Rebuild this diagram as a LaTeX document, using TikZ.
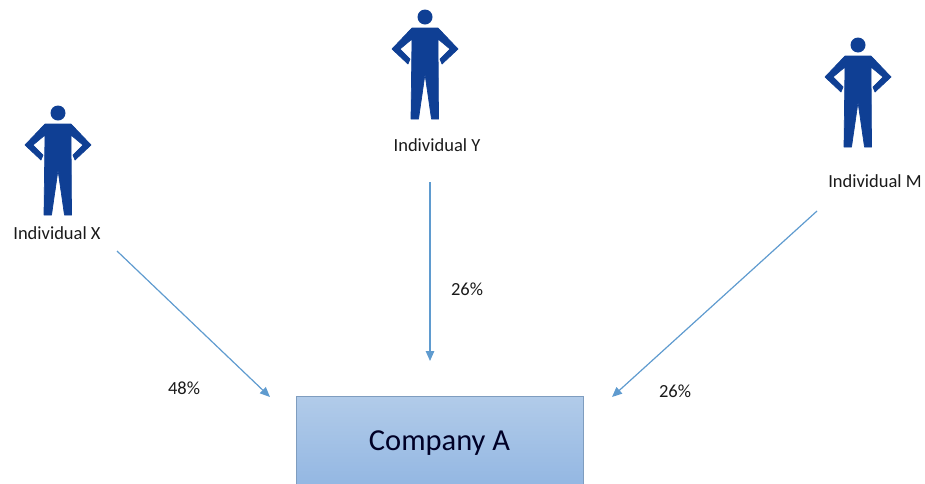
\documentclass[tikz,border=0pt]{standalone}
\usepackage{fontspec}
\setmainfont{Carlito}
\usetikzlibrary{arrows.meta,shadings}
\definecolor{fig}{HTML}{0F3F94}
\definecolor{arrowc}{HTML}{5F9BCF}
\definecolor{boxtop}{HTML}{B1CBE9}
\definecolor{boxbot}{HTML}{92B6E2}
\definecolor{boxline}{HTML}{7F9DBF}
\definecolor{txt}{HTML}{1A1A1A}
\tikzset{
  x=1pt,y=-1pt,
  person/.pic={
    \fill[fig] (0,0) circle[radius=7.5];
    \filldraw[fig,line width=0.7pt,line join=round] (-13,11) -- (13,11) -- (33,32) -- (17,47) -- (15,42) -- (25,32) -- (13,22)
      -- (13.5,102) -- (6.5,102) -- (0,57) -- (-6.5,102) -- (-14,102) -- (-13,22) -- (-25,32) -- (-15,42) -- (-17,47) -- (-33,32) -- cycle;
  },
  namelabel/.style={font=\fontsize{18.5}{20}\selectfont,text=txt,inner sep=0pt},
  pct/.style={font=\fontsize{18.5}{20}\selectfont,text=txt,inner sep=0pt},
  link/.style={draw=arrowc,line width=1.2pt,-{Triangle[length=10pt,width=8.5pt]}},
  company/.style={draw=boxline,line width=0.8pt,top color=boxtop,bottom color=boxbot,inner sep=0pt,
    minimum width=287pt,minimum height=94pt,font=\fontsize{30.5}{34}\selectfont,text=black!85!blue},
}
\begin{document}
\begin{tikzpicture}
\useasboundingbox (0,0) rectangle (925,483);
\pic at (58,113) {person};
\pic at (425,17) {person};
\pic at (858,45) {person};
\node[namelabel] (lx) at (57,233) {Individual X};
\node[namelabel] (ly) at (437,145) {Individual Y};
\node[namelabel] (lm) at (875,181) {Individual M};
\begin{scope}
\clip (0,0) rectangle (925,483);
\node[company] (co) at (439.5,443.5) {Company A};
\end{scope}
\coordinate (xs) at (117,251);
\coordinate (xe) at (270,397);
\coordinate (ys) at (430,182);
\coordinate (ye) at (430,361);
\coordinate (ms) at (817,211);
\coordinate (me) at (612,397);
\draw[link] (xs) -- (xe);
\draw[link] (ys) -- (ye);
\draw[link] (ms) -- (me);
\node[pct] (p1) at (184,388) {48\%};
\node[pct] (p2) at (467,289) {26\%};
\node[pct] (p3) at (675,391) {26\%};
\end{tikzpicture}
\end{document}
